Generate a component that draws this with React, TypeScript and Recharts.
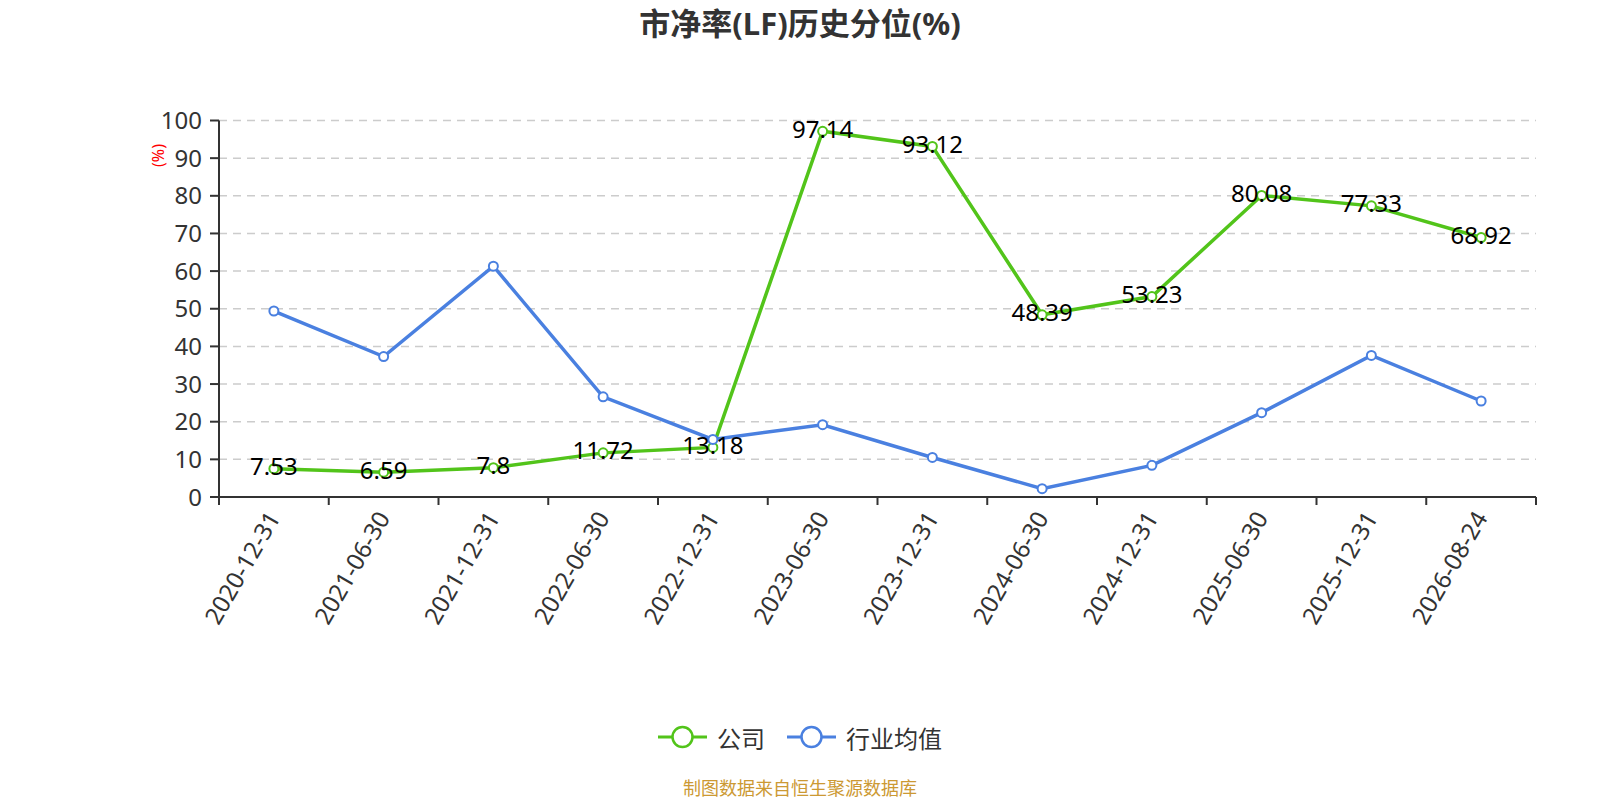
import React from "react";
import {
  LineChart,
  Line,
  XAxis,
  YAxis,
  CartesianGrid,
  LabelList,
} from "recharts";

const title = "市净率(LF)历史分位(%)";
const categories = [
  "2020-12-31",
  "2021-06-30",
  "2021-12-31",
  "2022-06-30",
  "2022-12-31",
  "2023-06-30",
  "2023-12-31",
  "2024-06-30",
  "2024-12-31",
  "2025-06-30",
  "2025-12-31",
  "2026-08-24",
];
const companyValues = [7.53, 6.59, 7.8, 11.72, 13.18, 97.14, 93.12, 48.39, 53.23, 80.08, 77.33, 68.92];
const industryValues = [49.4, 37.3, 61.3, 26.6, 15.3, 19.2, 10.5, 2.2, 8.4, 22.4, 37.6, 25.5];
const yTicks = [0, 10, 20, 30, 40, 50, 60, 70, 80, 90, 100];
const seriesNames = ["公司", "行业均值"];
const seriesColors = ["#52c41a", "#4a80e0"];
const yAxisUnit = "(%)";
const footerText = "制图数据来自恒生聚源数据库";

const data = categories.map((c, i) => ({
  date: c,
  company: companyValues[i],
  industry: industryValues[i],
}));

const FONT = "'Noto Sans', 'Noto Sans CJK SC', sans-serif";

const XTick = (props: any) => {
  const { x, y, payload, index } = props;
  const off = payload && payload.offset ? payload.offset : 54.85;
  const last = index === categories.length - 1;
  return (
    <g>
      <line x1={x - off} x2={x - off} y1={y} y2={y + 8} stroke="#333" strokeWidth={2} />
      {last && <line x1={x + off} x2={x + off} y1={y} y2={y + 8} stroke="#333" strokeWidth={2} />}
      <text
        x={x - 1}
        y={y + 16}
        transform={`rotate(-60, ${x - 1}, ${y + 16})`}
        textAnchor="end"
        dominantBaseline="central"
        fontSize={24}
        fill="#333"
        fontFamily={FONT}
      >
        {payload.value}
      </text>
    </g>
  );
};

const ValueLabel = (props: any) => {
  const { x, y, value } = props;
  return (
    <text
      x={x}
      y={y - 3}
      textAnchor="middle"
      dominantBaseline="central"
      fontSize={24}
      fill="#000"
      fontFamily={FONT}
    >
      {value}
    </text>
  );
};

const YUnitLabel = (props: any) => {
  const { viewBox } = props;
  const cx = viewBox.x + 18.5;
  const cy = viewBox.y + 35;
  return (
    <text
      x={cx}
      y={cy}
      transform={`rotate(-90, ${cx}, ${cy})`}
      textAnchor="middle"
      dominantBaseline="central"
      fontSize={16}
      fill="#ff0000"
      fontFamily={FONT}
    >
      {yAxisUnit}
    </text>
  );
};

const LegendIcon = ({ color }: { color: string }) => (
  <svg width={49} height={24} style={{ display: "block" }}>
    <line x1={0} x2={49} y1={12} y2={12} stroke={color} strokeWidth={3} />
    <circle cx={24.5} cy={12} r={10} fill="#fff" stroke={color} strokeWidth={2.5} />
  </svg>
);

export default function App() {
  return (
    <div
      style={{
        position: "absolute",
        left: 0,
        top: 0,
        width: 1600,
        height: 800,
        background: "#fff",
        fontFamily: FONT,
      }}
    >
      <div
        style={{
          position: "absolute",
          left: 0,
          top: 3,
          width: 1600,
          textAlign: "center",
          fontSize: 31,
          fontWeight: "bold",
          color: "#333",
          lineHeight: "40px",
        }}
      >
        {title}
      </div>
      <div style={{ position: "absolute", left: 0, top: 0 }}>
        <LineChart
          width={1600}
          height={800}
          data={data}
          margin={{ top: 120.5, right: 64, left: 139, bottom: 163 }}
        >
          <CartesianGrid
            vertical={false}
            stroke="#cccccc"
            strokeWidth={1.5}
            strokeDasharray="8 6"
          />
          <XAxis
            dataKey="date"
            scale="band"
            interval={0}
            height={140}
            tickLine={false}
            tickSize={0}
            tickMargin={0}
            axisLine={{ stroke: "#333", strokeWidth: 2 }}
            tick={<XTick />}
          />
          <YAxis
            width={80}
            domain={[0, 100]}
            ticks={yTicks}
            interval={0}
            tickSize={9}
            tickMargin={8}
            axisLine={{ stroke: "#333", strokeWidth: 2 }}
            tickLine={{ stroke: "#333", strokeWidth: 2 }}
            tick={{ fontSize: 24, fill: "#333", fontFamily: FONT }}
            label={<YUnitLabel />}
          />
          <Line
            type="linear"
            dataKey="company"
            name={seriesNames[0]}
            stroke={seriesColors[0]}
            strokeWidth={3.5}
            dot={{ r: 4.5, fill: "#fff", stroke: seriesColors[0], strokeWidth: 2 }}
            isAnimationActive={false}
          >
            <LabelList dataKey="company" content={<ValueLabel />} />
          </Line>
          <Line
            type="linear"
            dataKey="industry"
            name={seriesNames[1]}
            stroke={seriesColors[1]}
            strokeWidth={3.5}
            dot={{ r: 4.5, fill: "#fff", stroke: seriesColors[1], strokeWidth: 2 }}
            isAnimationActive={false}
          />
        </LineChart>
      </div>
      <div
        style={{
          position: "absolute",
          left: 0,
          top: 722,
          width: 1600,
          height: 30,
          display: "flex",
          justifyContent: "center",
          alignItems: "center",
          fontSize: 24,
          color: "#333",
        }}
      >
        {seriesNames.map((n, i) => (
          <div
            key={n}
            style={{
              display: "flex",
              alignItems: "center",
              marginLeft: i === 0 ? 0 : 22,
            }}
          >
            <LegendIcon color={seriesColors[i]} />
            <span style={{ marginLeft: 10 }}>{n}</span>
          </div>
        ))}
      </div>
      <div
        style={{
          position: "absolute",
          left: 0,
          top: 776,
          width: 1600,
          textAlign: "center",
          fontSize: 18,
          color: "#cc9933",
          lineHeight: "24px",
        }}
      >
        {footerText}
      </div>
    </div>
  );
}
